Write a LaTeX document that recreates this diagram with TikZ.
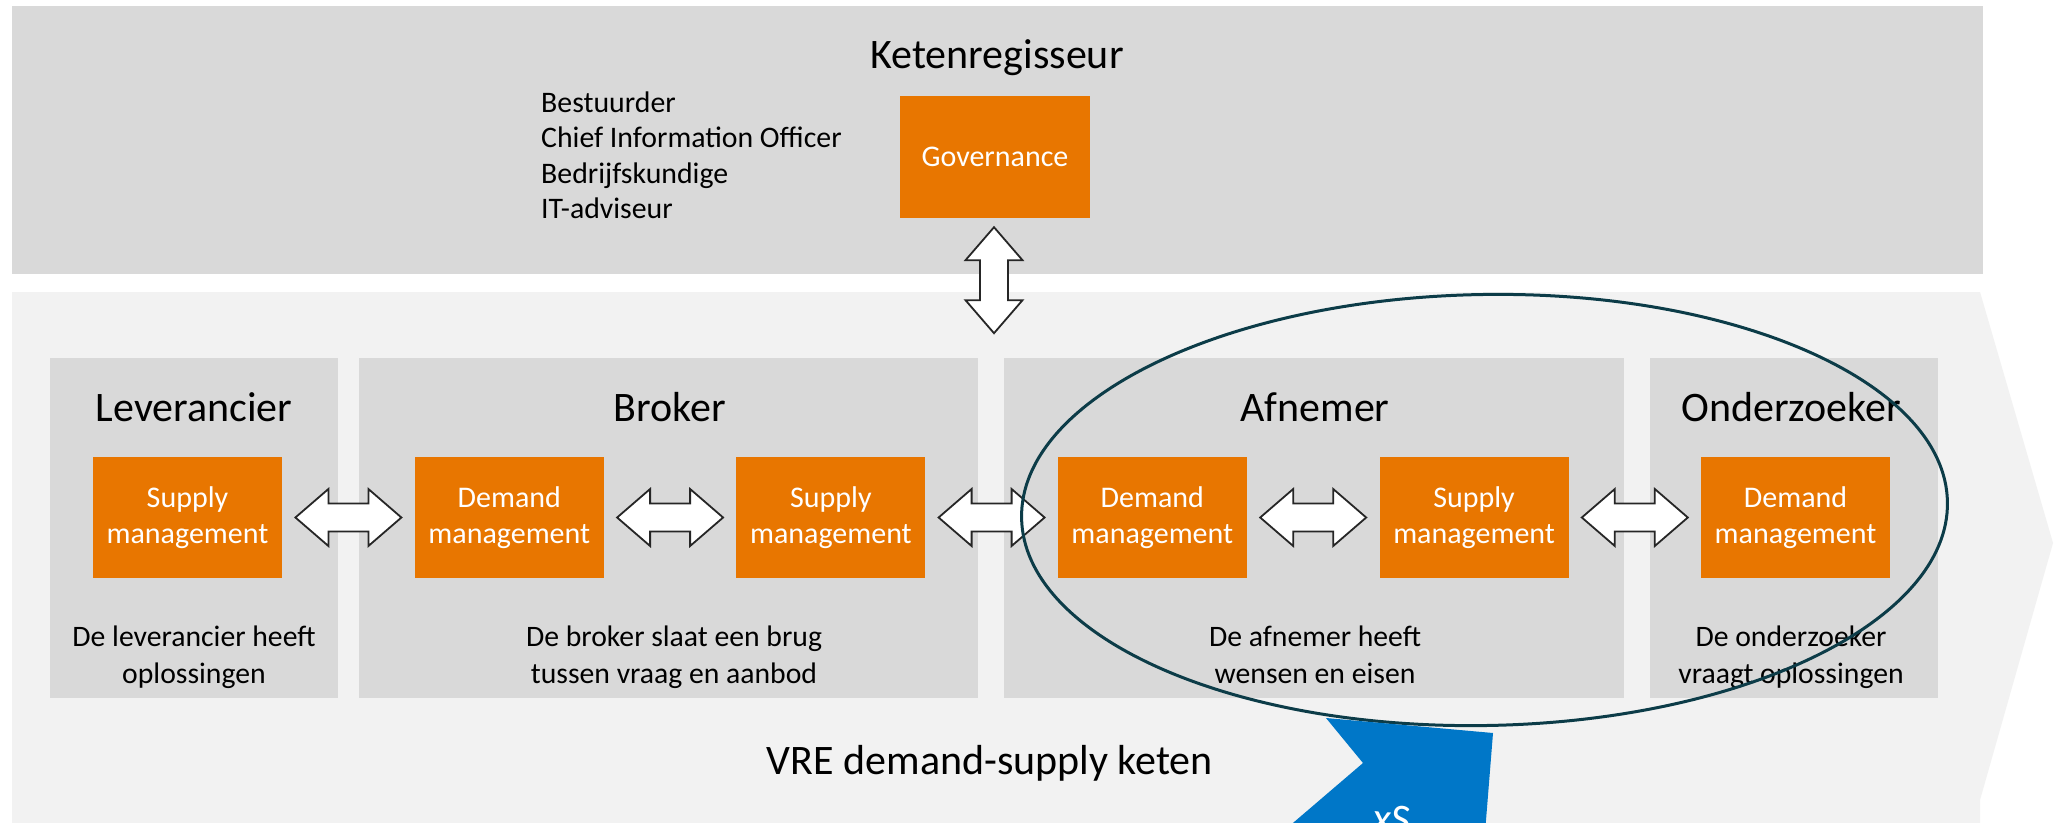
\documentclass[tikz,border=0pt]{standalone}
\usepackage{fontspec}
\setmainfont{Carlito}
\usetikzlibrary{calc}
\definecolor{bandgray}{RGB}{217,217,217}
\definecolor{lightband}{RGB}{242,242,242}
\definecolor{orng}{RGB}{232,118,0}
\definecolor{blu}{RGB}{0,119,200}
\definecolor{ellteal}{RGB}{12,60,72}
\definecolor{arrowline}{RGB}{38,38,38}
\tikzset{
  graybox/.style={fill=bandgray, draw=none, inner sep=0pt, minimum height=340pt},
  obox/.style={fill=orng, draw=none, text=white, inner sep=0pt, minimum width=189pt,
    minimum height=121pt, align=center, font=\fontsize{30}{36}\selectfont},
  title/.style={anchor=base, inner sep=0pt, font=\fontsize{42}{50}\selectfont},
  body/.style={anchor=base, inner sep=0pt, font=\fontsize{29.7}{36}\selectfont},
  listtxt/.style={anchor=base west, inner sep=0pt, font=\fontsize{29.8}{36}\selectfont},
  blockarrow/.style={fill=white, draw=arrowline, line width=1.8pt, line join=miter},
  harrow/.pic={\draw[blockarrow] (-53,0) -- (-20,-28.5) -- (-20,-14) -- (20,-14) -- (20,-28.5)
      -- (53,0) -- (20,28.5) -- (20,14) -- (-20,14) -- (-20,28.5) -- cycle;},
  varrow/.pic={\draw[blockarrow] (0,-53) -- (28.5,-20) -- (14,-20) -- (14,20) -- (28.5,20)
      -- (0,53) -- (-28.5,20) -- (-14,20) -- (-14,-20) -- (-28.5,-20) -- cycle;}
}
\begin{document}
\begin{tikzpicture}[x=1pt,y=-1pt]
\useasboundingbox (0,0) rectangle (2055,822);
\clip (0,0) rectangle (2055,822);
\fill[white] (0,0) rectangle (2055,822);
% top band
\node[fill=bandgray, inner sep=0pt, minimum width=1971pt, minimum height=268pt] (topband) at (997.5,140) {};
% light chevron band
\fill[lightband] (12,292) -- (1980,292) -- (2053,543) -- (1980,800) -- (1980,860) -- (12,860) -- cycle;
% column boxes
\node[graybox, minimum width=288pt] (lev) at (194,528) {};
\node[graybox, minimum width=619pt] (bro) at (668.5,528) {};
\node[graybox, minimum width=620pt] (afn) at (1314,528) {};
\node[graybox, minimum width=288pt] (ond) at (1794,528) {};
% titles
\node[title] (ttop) at (997,68) {Ketenregisseur};
\node[title] (tlev) at (194,421) {Leverancier};
\node[title] (tbro) at (670,421) {Broker};
\node[title] (tafn) at (1315,421) {Afnemer};
\node[title] (tond) at (1791,421) {Onderzoeker};
% roles list
\node[listtxt] (l1) at (541,112) {Bestuurder};
\node[listtxt] (l2) at (541,147.5) {Chief Information Officer};
\node[listtxt] (l3) at (541,183) {Bedrijfskundige};
\node[listtxt] (l4) at (541,218) {IT-adviseur};
% governance
\node[obox, minimum width=190pt, minimum height=122pt] (gov) at (995,157) {Governance};
% orange boxes
\node[obox] (sup1) at (187.5,517.5) {Supply\\management};
\node[obox] (dem2) at (509.3,517.5) {Demand\\management};
\node[obox] (sup2) at (830.9,517.5) {Supply\\management};
\node[obox] (dem3) at (1152.3,517.5) {Demand\\management};
\node[obox] (sup3) at (1474.1,517.5) {Supply\\management};
\node[obox] (dem4) at (1795.5,517.5) {Demand\\management};
% bottom texts
\node[body] (blev1) at (194,646) {De leverancier heeft};
\node[body] (blev2) at (194,683) {oplossingen};
\node[body] (bbro1) at (674,646) {De broker slaat een brug};
\node[body] (bbro2) at (674,683) {tussen vraag en aanbod};
\node[body] (bafn1) at (1315,646) {De afnemer heeft};
\node[body] (bafn2) at (1315,683) {wensen en eisen};
\node[body] (bond1) at (1791,646) {De onderzoeker};
\node[body] (bond2) at (1791,683) {vraagt oplossingen};
\node[title] (vre) at (990,774) {VRE demand-supply keten};
% double arrows
\pic (a1) at ($(sup1.east)!0.5!(dem2.west)$) {harrow};
\pic (a2) at ($(dem2.east)!0.5!(sup2.west)$) {harrow};
\pic (a3) at ($(sup2.east)!0.5!(dem3.west)$) {harrow};
\pic (a4) at ($(dem3.east)!0.5!(sup3.west)$) {harrow};
\pic (a5) at ($(sup3.east)!0.5!(dem4.west)$) {harrow};
\coordinate (vmid) at ($(gov.south)+(-1,62)$);
\pic (av) at (vmid) {varrow};
% ellipse
\draw[ellteal, line width=3pt, rotate around={1:(1484.5,510)}] (1484.5,510) ellipse [x radius=463, y radius=215.5];
% blue shape
\fill[blu] (1326,718) -- (1493,733) -- (1482,870) -- (1238,870) -- (1363,763) -- cycle;
\node[title, text=white, rotate=-5] (bluetxt) at (1391,833) {xS};
\end{tikzpicture}
\end{document}
